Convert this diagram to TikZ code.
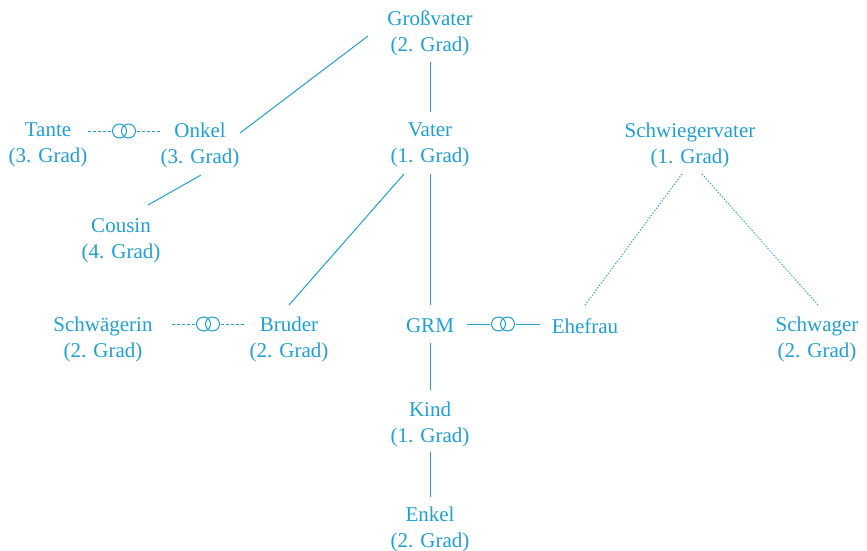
\documentclass[tikz,border=0pt]{standalone}
\usepackage{fontspec}
\setmainfont{Liberation Serif}
\definecolor{famblue}{RGB}{30,160,215}
\begin{document}
\begin{tikzpicture}[x=1pt,y=-1pt,
  person/.style={text=famblue,align=center,inner sep=0pt,
    font=\fontsize{21}{26}\selectfont},
  rel/.style={draw=famblue,line width=1pt},
  dashrel/.style={rel,dash pattern=on 3pt off 2pt},
  dotrel/.style={rel,dash pattern=on 1.2pt off 1.8pt},
  rings/.style={inner sep=0pt,outer sep=0pt,minimum width=26pt,minimum height=16pt,
    path picture={
      \draw[famblue,line width=1pt] ([xshift=-4.5pt]path picture bounding box.center) circle (7pt);
      \draw[famblue,line width=1pt] ([xshift=4.5pt]path picture bounding box.center) circle (7pt);
    }}]
\useasboundingbox (0,0) rectangle (867,551);

\node[person] (gv) at (430,33) {Großvater\\(2. Grad)};
\node[person] (vater) at (430,145) {Vater\\(1. Grad)};
\node[person] (onkel) at (200,145) {Onkel\\(3. Grad)};
\node[person] (tante) at (48,145) {Tante\\(3. Grad)};
\node[person] (sv) at (690,145) {Schwiegervater\\(1. Grad)};
\node[person] (cousin) at (121,241) {Cousin\\(4. Grad)};
\node[person] (schw) at (103,339) {Schwägerin\\(2. Grad)};
\node[person] (bruder) at (289,339) {Bruder\\(2. Grad)};
\node[person] (grm) at (430,326) {GRM};
\node[person] (ehe) at (585,326) {Ehefrau};
\node[person] (schwager) at (817,339) {Schwager\\(2. Grad)};
\node[person] (kind) at (430,424) {Kind\\(1. Grad)};
\node[person] (enkel) at (430,529) {Enkel\\(2. Grad)};

\node[rings] (r1) at (124,131) {};
\node[rings] (r2) at (208,324) {};
\node[rings] (r3) at (503,324) {};

\draw[rel] ([shift={(0,29)}]gv.center) -- ([shift={(0,-33)}]vater.center);
\draw[rel] ([shift={(-62,3)}]gv.center) -- ([shift={(40,-12)}]onkel.center);
\draw[rel] ([shift={(1,30)}]onkel.center) -- ([shift={(27,-36)}]cousin.center);
\draw[rel] ([shift={(-26,29)}]vater.center) -- ([shift={(0,-34)}]bruder.center);
\draw[rel] ([shift={(0,29)}]vater.center) -- ([shift={(0,-21)}]grm.center);
\draw[rel] ([shift={(0,17)}]grm.center) -- ([shift={(0,-34)}]kind.center);
\draw[rel] ([shift={(0,28)}]kind.center) -- ([shift={(0,-32)}]enkel.center);
\draw[dotrel] ([shift={(-8,29)}]sv.center) -- ([shift={(0,-21)}]ehe.center);
\draw[dotrel] ([shift={(12,29)}]sv.center) -- ([shift={(1,-34)}]schwager.center);

\draw[dashrel] ([shift={(40,-14)}]tante.center) -- (r1.west);
\draw[dashrel] (r1.east) -- ([shift={(-40,-14)}]onkel.center);
\draw[dashrel] ([shift={(69,-15)}]schw.center) -- (r2.west);
\draw[dashrel] (r2.east) -- ([shift={(-45,-15)}]bruder.center);
\draw[rel] ([shift={(37,-2)}]grm.center) -- (r3.west);
\draw[rel] (r3.east) -- ([shift={(-45,-2)}]ehe.center);
\end{tikzpicture}
\end{document}
